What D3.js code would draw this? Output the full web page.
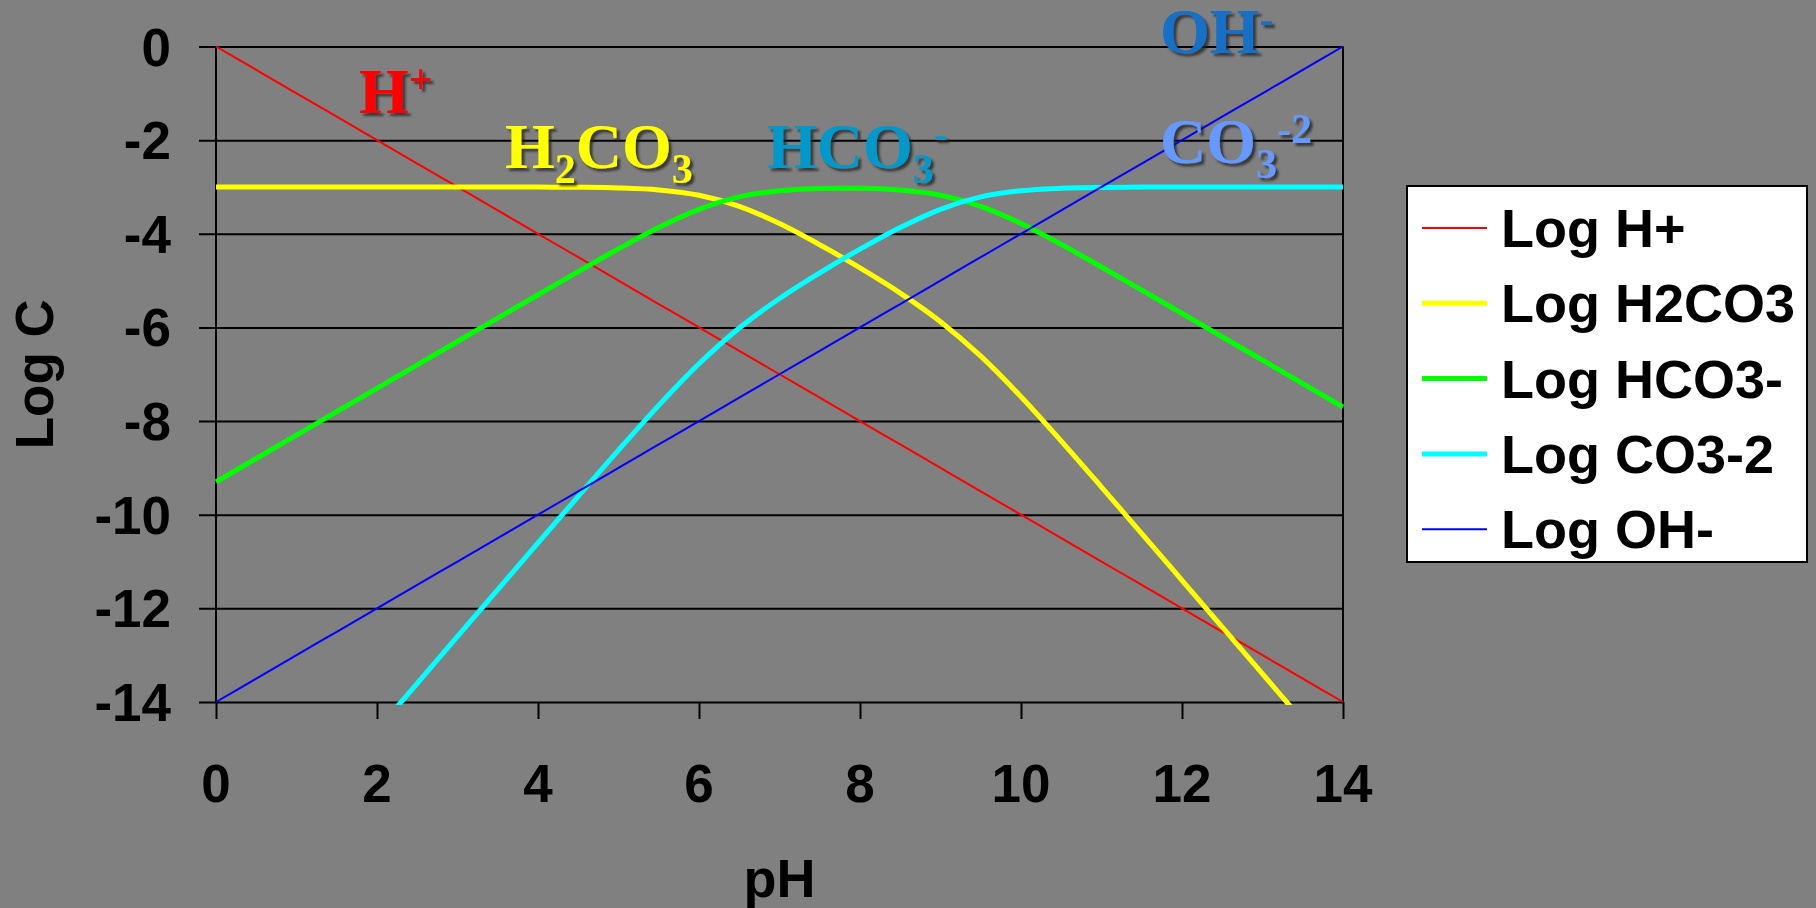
<!DOCTYPE html>
<html>
<head>
<meta charset="utf-8">
<script src="https://cdn.jsdelivr.net/npm/d3@7"></script>
<style>
  html, body { margin: 0; padding: 0; background: #808080; }
  svg { display: block; }
</style>
</head>
<body>
<svg id="chart"></svg>
<script>
// pH grid and log concentrations
const pH = [0, 0.5, 1, 1.5, 2, 2.5, 3, 3.5, 4, 4.5, 5, 5.5, 6, 6.5, 7, 7.5, 8, 8.5, 9, 9.5, 10, 10.5, 11, 11.5, 12, 12.5, 13, 13.5, 14]
const logH = [0, -0.5, -1, -1.5, -2, -2.5, -3, -3.5, -4, -4.5, -5, -5.5, -6, -6.5, -7, -7.5, -8, -8.5, -9, -9.5, -10, -10.5, -11, -11.5, -12, -12.5, -13, -13.5, -14]
const logH2CO3 = [-3, -3, -3, -3, -3, -3, -3, -3, -3.002, -3.007, -3.021, -3.064, -3.177, -3.413, -3.781, -4.233, -4.729, -5.266, -5.877, -6.613, -7.479, -8.427, -9.409, -10.403, -11.401, -12.4, -13.4, -14.4, -15.4]
const logHCO3 = [-9.3, -8.8, -8.3, -7.8, -7.3, -6.8, -6.3, -5.8, -5.302, -4.807, -4.321, -3.864, -3.477, -3.213, -3.081, -3.033, -3.029, -3.066, -3.177, -3.413, -3.779, -4.227, -4.709, -5.203, -5.701, -6.2, -6.7, -7.2, -7.7]
const logCO3 = [-18.6, -17.6, -16.6, -15.6, -14.6, -13.6, -12.6, -11.6, -10.602, -9.607, -8.621, -7.664, -6.777, -6.013, -5.381, -4.833, -4.329, -3.866, -3.477, -3.213, -3.079, -3.027, -3.009, -3.003, -3.001, -3, -3, -3, -3]
const logOH = [-14, -13.5, -13, -12.5, -12, -11.5, -11, -10.5, -10, -9.5, -9, -8.5, -8, -7.5, -7, -6.5, -6, -5.5, -5, -4.5, -4, -3.5, -3, -2.5, -2, -1.5, -1, -0.5, 0]

const xTicks = [0, 2, 4, 6, 8, 10, 12, 14]
const yTicks = [0, -2, -4, -6, -8, -10, -12, -14]

const seriesNames = ['Log H+', 'Log H2CO3', 'Log HCO3-', 'Log CO3-2', 'Log OH-']
const seriesValues = [logH, logH2CO3, logHCO3, logCO3, logOH]
const seriesColors = ['#ff0000', '#ffff00', '#00ff00', '#00ffff', '#0000ff']
const seriesWidths = [2, 5, 5, 5, 2]

// species annotations, text split in [text, '' | 'sub' | 'sup'] parts
const labels = [
  { parts: [['H', ''], ['+', 'sup']], color: '#ff0000', x: 359, y: 113 },
  { parts: [['H', ''], ['2', 'sub'], ['CO', ''], ['3', 'sub']], color: '#ffff00', x: 505, y: 168 },
  { parts: [['HCO', ''], ['3', 'sub'], ['-', 'sup']], color: '#0099cc', x: 767, y: 168 },
  { parts: [['OH', ''], ['-', 'sup']], color: '#1470c8', x: 1160, y: 53 },
  { parts: [['CO', ''], ['3', 'sub'], ['-2', 'sup']], color: '#6699ff', x: 1160, y: 163 },
]

const width = 1816
const height = 908
const plot = { left: 216, right: 1343, top: 46.5, bottom: 702 }

const svg = d3.select('#chart').attr('width', width).attr('height', height)

const x = d3.scaleLinear().domain([0, 14]).range([plot.left, plot.right])
const y = d3.scaleLinear().domain([0, -14]).range([plot.top, plot.bottom])

const series = seriesNames.map((name, i) => ({
  name, values: seriesValues[i], color: seriesColors[i], width: seriesWidths[i]
}))

const defs = svg.append('defs')
defs.append('clipPath').attr('id', 'plotClip')
  .append('rect')
  .attr('x', plot.left - 4).attr('y', plot.top - 4)
  .attr('width', plot.right - plot.left + 8).attr('height', plot.bottom - plot.top + 7)

const shadow = defs.append('filter').attr('id', 'shadow')
  .attr('x', '-10%').attr('y', '-20%').attr('width', '130%').attr('height', '150%')
shadow.append('feDropShadow')
  .attr('dx', 3).attr('dy', 3).attr('stdDeviation', 1.2)
  .attr('flood-color', '#222').attr('flood-opacity', 0.75)

// gridlines (with outward ticks)
svg.append('g')
  .attr('transform', `translate(${plot.left},0)`)
  .call(d3.axisRight(y).tickValues(yTicks).tickSize(plot.right - plot.left).tickSizeOuter(0).tickFormat(''))
  .call(g => g.select('.domain').remove())
  .call(g => g.selectAll('.tick line')
    .attr('x1', -17)
    .attr('stroke', '#000').attr('stroke-width', 2))

// x axis ticks
svg.append('g')
  .attr('transform', `translate(0,${plot.bottom})`)
  .call(d3.axisBottom(x).tickValues(xTicks).tickSize(17).tickSizeOuter(0).tickFormat(''))
  .call(g => g.select('.domain').remove())
  .call(g => g.selectAll('.tick line').attr('stroke', '#000').attr('stroke-width', 2))

// left axis and right border
svg.append('g').selectAll('line')
  .data([plot.left, plot.right])
  .enter().append('line')
  .attr('x1', d => d).attr('x2', d => d)
  .attr('y1', plot.top).attr('y2', plot.bottom)
  .attr('stroke', '#000').attr('stroke-width', 2)

const tickFont = 'Liberation Sans, Arial, sans-serif'

svg.append('g').selectAll('text')
  .data(yTicks)
  .enter().append('text')
  .attr('x', 171)
  .attr('y', d => y(d) + 19)
  .attr('text-anchor', 'end')
  .attr('font-family', tickFont).attr('font-weight', 'bold').attr('font-size', 53)
  .text(d => d)

svg.append('g').selectAll('text')
  .data(xTicks)
  .enter().append('text')
  .attr('x', d => x(d))
  .attr('y', 802)
  .attr('text-anchor', 'middle')
  .attr('font-family', tickFont).attr('font-weight', 'bold').attr('font-size', 53)
  .text(d => d)

svg.append('text')
  .attr('x', (plot.left + plot.right) / 2).attr('y', 897)
  .attr('text-anchor', 'middle')
  .attr('font-family', tickFont).attr('font-weight', 'bold').attr('font-size', 54)
  .text('pH')

svg.append('text')
  .attr('transform', `translate(53,${(plot.top + plot.bottom) / 2}) rotate(-90)`)
  .attr('text-anchor', 'middle')
  .attr('font-family', tickFont).attr('font-weight', 'bold').attr('font-size', 53)
  .text('Log C')

// species curves
const line = d3.line()
  .x((d, i) => x(pH[i]))
  .y(d => y(d))
  .curve(d3.curveMonotoneX)

svg.append('g')
  .attr('clip-path', 'url(#plotClip)')
  .selectAll('path')
  .data(series)
  .enter().append('path')
  .attr('d', d => line(d.values))
  .attr('fill', 'none')
  .attr('stroke', d => d.color)
  .attr('stroke-width', d => d.width)
  .attr('stroke-linejoin', 'round')

// species annotations (serif, with drop shadow)
const shift = { '': 0, sub: 15, sup: -20 }
const partSize = { '': 64, sub: 42, sup: 42 }

svg.append('g')
  .selectAll('text')
  .data(labels)
  .enter().append('text')
  .attr('x', d => d.x)
  .attr('y', d => d.y)
  .attr('fill', d => d.color)
  .attr('font-family', 'Liberation Serif, Times New Roman, serif')
  .attr('font-weight', 'bold')
  .attr('filter', 'url(#shadow)')
  .each(function (d) {
    let prev = 0
    d.parts.forEach(([txt, kind]) => {
      d3.select(this).append('tspan')
        .attr('dy', shift[kind] - prev)
        .attr('font-size', partSize[kind])
        .text(txt)
      prev = shift[kind]
    })
  })

// legend
const legend = svg.append('g').attr('transform', 'translate(1407,186)')
legend.append('rect')
  .attr('width', 400).attr('height', 376)
  .attr('fill', '#fff').attr('stroke', '#000').attr('stroke-width', 2)

const entry = legend.selectAll('g.entry')
  .data(series)
  .enter().append('g')
  .attr('class', 'entry')
  .attr('transform', (d, i) => `translate(0,${42 + i * 75.3})`)

entry.append('line')
  .attr('x1', 15).attr('x2', 80)
  .attr('stroke', d => d.color)
  .attr('stroke-width', d => d.width)

entry.append('text')
  .attr('x', 94).attr('y', 19)
  .attr('font-family', tickFont).attr('font-weight', 'bold').attr('font-size', 54)
  .text(d => d.name)
</script>
</body>
</html>
